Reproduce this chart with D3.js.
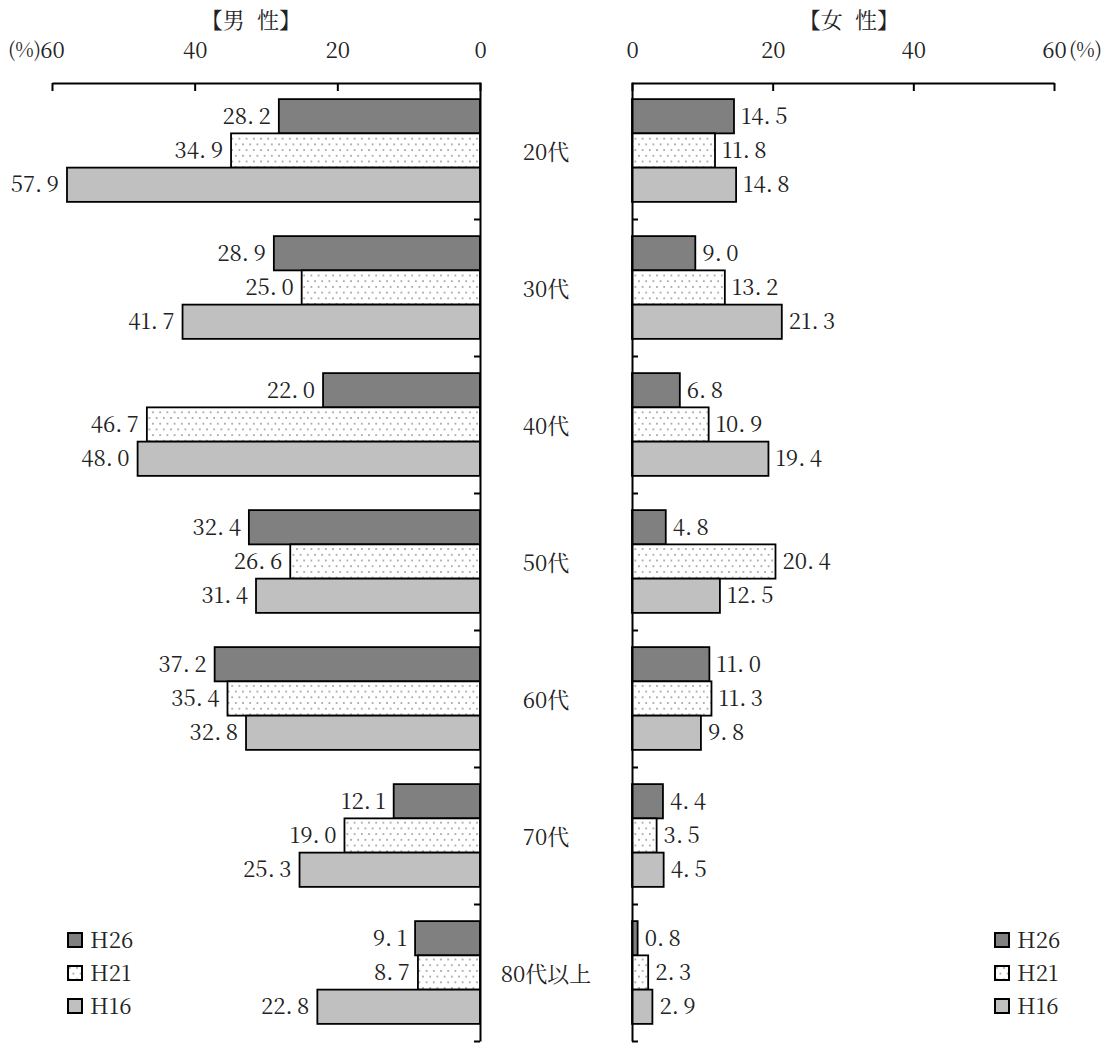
<!DOCTYPE html>
<html lang="ja">
<head>
<meta charset="utf-8">
<script src="https://cdn.jsdelivr.net/npm/d3@7"></script>
<style>
  html, body { margin: 0; padding: 0; background: #fff; }
  svg { display: block; }
</style>
</head>
<body>
<svg id="chart" width="1109" height="1044"></svg>
<script>
// Age groups (rows) and survey years (series)
const categories = ["20代", "30代", "40代", "50代", "60代", "70代", "80代以上"];
const seriesNames = ["H26", "H21", "H16"];

// 男性 (%)
const maleH26 = [28.2, 28.9, 22.0, 32.4, 37.2, 12.1, 9.1];
const maleH21 = [34.9, 25.0, 46.7, 26.6, 35.4, 19.0, 8.7];
const maleH16 = [57.9, 41.7, 48.0, 31.4, 32.8, 25.3, 22.8];

// 女性 (%)
const femaleH26 = [14.5, 9.0, 6.8, 4.8, 11.0, 4.4, 0.8];
const femaleH21 = [11.8, 13.2, 10.9, 20.4, 11.3, 3.5, 2.3];
const femaleH16 = [14.8, 21.3, 19.4, 12.5, 9.8, 4.5, 2.9];

const tickValues = [0, 20, 40, 60];

const FONT = '"Noto Serif CJK JP", "Liberation Serif", serif';
const INK = "#222";
const fontSize = 22;

const svg = d3.select("#chart");

// Dotted fill for the H21 series
const defs = svg.append("defs");
const pat = defs.append("pattern")
  .attr("id", "dots").attr("patternUnits", "userSpaceOnUse")
  .attr("width", 7.2).attr("height", 11.4);
pat.append("rect").attr("width", 7.2).attr("height", 11.4).attr("fill", "#fff");
pat.append("circle").attr("cx", 1.8).attr("cy", 2).attr("r", 0.95).attr("fill", "#9a9a9a");
pat.append("circle").attr("cx", 5.4).attr("cy", 7.7).attr("r", 0.95).attr("fill", "#9a9a9a");

const fills = { H26: "#808080", H21: "url(#dots)", H16: "#c0c0c0" };

const plotTop = 82, plotBottom = 1041;
const y = d3.scaleBand().domain(categories).range([plotTop, plotBottom]).paddingInner(0).paddingOuter(0);
const ySub = d3.scaleBand().domain(seriesNames).range([0, y.bandwidth()]).paddingInner(0).paddingOuter(0.5);
// Row boundary ticks along the vertical axes
const yRow = d3.scaleLinear().domain([0, categories.length]).range([plotTop, plotBottom]);

const xL = d3.scaleLinear().domain([0, 60]).range([480, 52]);
const xR = d3.scaleLinear().domain([0, 60]).range([632, 1054]);

function styleText(sel, size) {
  return sel.style("font-family", FONT).style("font-size", (size || fontSize) + "px").style("fill", INK);
}

function panelData(h26, h21, h16) {
  const rows = [];
  categories.forEach((c, i) => {
    rows.push({ cat: c, s: "H26", v: h26[i] });
    rows.push({ cat: c, s: "H21", v: h21[i] });
    rows.push({ cat: c, s: "H16", v: h16[i] });
  });
  return rows;
}

// Value label: keeps the text as the number, with a little extra room after the point
function writeValue(sel) {
  sel.each(function(d) {
    const parts = d3.format(".1f")(d.v).split(".");
    const t = d3.select(this);
    t.append("tspan").text(parts[0]);
    t.append("tspan").text(".");
    t.append("tspan").attr("dx", "0.2em").text(parts[1]);
  });
}

function drawPanel(x, data, side) {
  const g = svg.append("g");
  const x0 = x(0);

  // bars
  g.selectAll("rect.bar").data(data).join("rect")
    .attr("class", "bar")
    .attr("x", d => Math.min(x(d.v), x0))
    .attr("y", d => y(d.cat) + ySub(d.s))
    .attr("width", d => Math.abs(x(d.v) - x0))
    .attr("height", ySub.bandwidth())
    .attr("fill", d => fills[d.s])
    .attr("stroke", "#000")
    .attr("stroke-width", 1.8);

  // value labels
  g.selectAll("text.val").data(data).join("text")
    .attr("class", "val")
    .attr("x", d => side === "left" ? x(d.v) - 8 : x(d.v) + 7)
    .attr("y", d => y(d.cat) + ySub(d.s) + ySub.bandwidth() / 2)
    .attr("dy", "0.35em")
    .attr("text-anchor", side === "left" ? "end" : "start")
    .call(styleText)
    .call(writeValue);

  // top value axis
  const axTop = d3.axisTop(x).tickValues(tickValues).tickSizeInner(-8).tickSizeOuter(0).tickFormat(d3.format("d"));
  const ga = g.append("g").attr("transform", `translate(0,${plotTop + 1})`).call(axTop);
  ga.select(".domain").attr("stroke", "#000").attr("stroke-width", 2);
  ga.selectAll(".tick line").attr("stroke", "#000").attr("stroke-width", 2);
  ga.selectAll(".tick text")
    .attr("y", -33).attr("dy", "0.35em")
    .call(styleText);

  // vertical category axis at zero
  const axV = (side === "left" ? d3.axisLeft(yRow) : d3.axisRight(yRow))
    .tickValues(d3.range(1, categories.length + 1)).tickSizeInner(6).tickSizeOuter(0).tickFormat("");
  const gv = g.append("g").attr("transform", `translate(${x0},0)`).call(axV);
  gv.select(".domain").attr("stroke", "#000").attr("stroke-width", 2);
  gv.selectAll(".tick line").attr("stroke", "#000").attr("stroke-width", 2);
  return g;
}

drawPanel(xL, panelData(maleH26, maleH21, maleH16), "left");
drawPanel(xR, panelData(femaleH26, femaleH21, femaleH16), "right");

// unit marks beside the 60 ticks
svg.append("text").attr("x", xL(60) - 11).attr("y", 50).attr("dy", "0.35em")
  .attr("text-anchor", "end").call(styleText, 20).text("(%)");
svg.append("text").attr("x", xR(60) + 15).attr("y", 50).attr("dy", "0.35em")
  .attr("text-anchor", "start").call(styleText, 20).text("(%)");

// panel titles, with a wider gap between the two characters
function title(x, a, b) {
  const t = svg.append("text").attr("x", x).attr("y", 20).attr("dy", "0.35em")
    .attr("text-anchor", "middle").call(styleText);
  t.append("tspan").text(a + " ");
  t.append("tspan").attr("dx", "0.3em").text(b);
}
title(251, "【男", "性】");
title(849, "【女", "性】");

// age group labels between the panels
svg.append("g").selectAll("text").data(categories).join("text")
  .attr("x", 546)
  .attr("y", d => y(d) + y.bandwidth() / 2 + 2)
  .attr("dy", "0.35em")
  .attr("text-anchor", "middle")
  .call(styleText)
  .text(d => d);

// legends
function legend(xBox) {
  const lg = svg.append("g");
  const rows = lg.selectAll("g").data(seriesNames).join("g")
    .attr("transform", (d, i) => `translate(${xBox},${933 + i * 33})`);
  rows.append("rect").attr("width", 14).attr("height", 14)
    .attr("fill", d => fills[d]).attr("stroke", "#000").attr("stroke-width", 2);
  rows.append("text").attr("x", 22).attr("y", 7).attr("dy", "0.35em")
    .call(styleText).text(d => d);
}
legend(68);
legend(995);
</script>
</body>
</html>
